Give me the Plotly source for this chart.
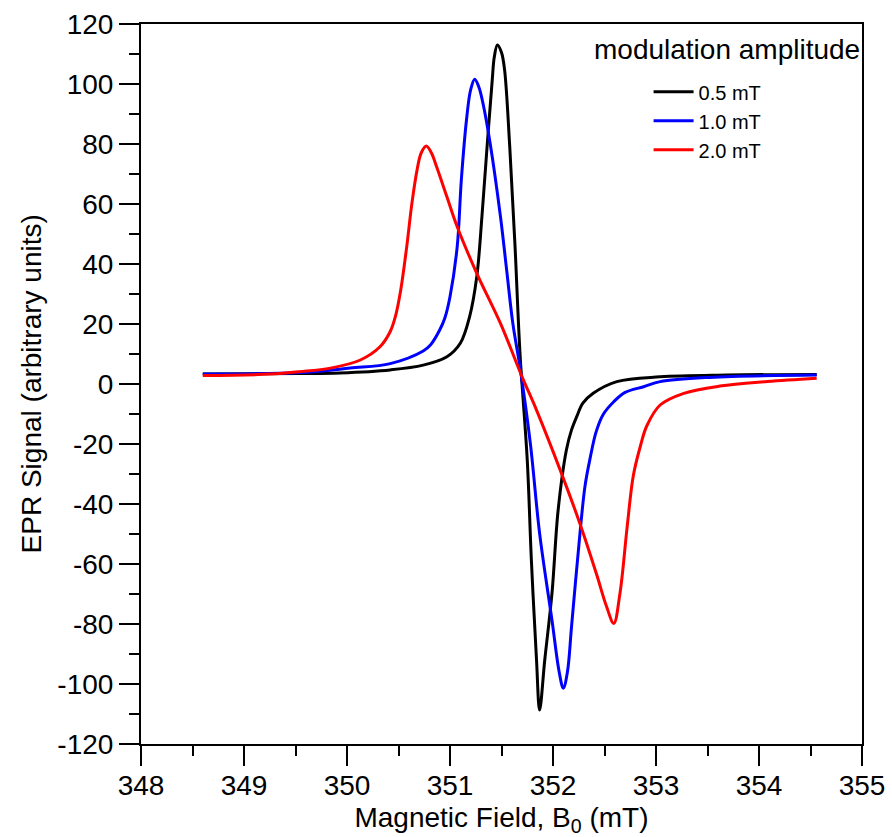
import plotly.graph_objects as go

# ---- data ----
field_black = [348.60, 349.54, 349.93, 350.42, 350.74, 350.97, 351.10, 351.19, 351.26, 351.31,
               351.36, 351.41, 351.43, 351.46, 351.50, 351.53, 351.58, 351.63, 351.68, 351.75,
               351.79, 351.84, 351.87, 351.92, 351.99, 352.05, 352.13, 352.18, 352.23, 352.29,
               352.39, 352.62, 353.04, 353.69, 354.56]
signal_black = [3.3, 3.5, 3.7, 4.7, 6.3, 9.1, 13.6, 22.4, 35.8, 55.8,
                79.1, 101.3, 109.0, 113.0, 110.5, 104.7, 79.1, 46.9, 10.0, -25.3,
                -58.7, -92.0, -108.7, -92.0, -69.8, -42.0, -22.0, -15.3, -10.9, -6.4,
                -3.1, 0.8, 2.4, 3.0, 3.2]

field_blue = [348.60, 349.54, 350.03, 350.42, 350.74, 350.81, 350.90, 350.95, 351.00, 351.07,
              351.11, 351.16, 351.20, 351.24, 351.28, 351.32, 351.39, 351.49, 351.55, 351.61,
              351.68, 351.78, 351.87, 351.99, 352.06, 352.10, 352.14, 352.18, 352.25, 352.31,
              352.36, 352.42, 352.49, 352.59, 352.70, 352.88, 353.04, 353.52, 354.56]
signal_blue = [3.3, 3.8, 5.3, 6.8, 11.0, 13.0, 18.0, 22.0, 29.1, 45.8,
               68.0, 88.0, 98.0, 101.6, 99.0, 93.6, 80.2, 55.8, 38.0, 20.2,
               5.5, -19.8, -49.8, -78.7, -96.0, -101.4, -96.0, -80.9, -54.2, -34.2,
               -24.8, -15.8, -10.0, -5.9, -2.8, -0.9, 0.8, 2.2, 3.0]

field_red = [348.60, 349.25, 349.54, 349.84, 350.13, 350.32, 350.42, 350.47, 350.52, 350.58,
             350.63, 350.68, 350.72, 350.77, 350.82, 350.87, 350.97, 351.07, 351.26, 351.49,
             351.70, 351.84, 352.07, 352.26, 352.42, 352.52, 352.59, 352.65, 352.72, 352.78,
             352.85, 352.91, 353.04, 353.27, 353.62, 354.08, 354.56]
signal_red = [2.8, 3.3, 4.1, 5.3, 8.0, 12.4, 17.5, 22.5, 31.0, 45.8,
              60.2, 71.3, 77.0, 79.3, 77.0, 72.4, 62.4, 52.4, 36.9, 20.2,
              2.4, -8.7, -28.7, -46.4, -63.1, -74.2, -79.8, -69.8, -47.6, -30.5,
              -20.5, -14.0, -7.0, -3.1, -0.7, 0.8, 1.9]

series_names = ["0.5 mT", "1.0 mT", "2.0 mT"]
series_colors = ["#000000", "#0000ff", "#ff0000"]

y_tickvals = [-120, -100, -80, -60, -40, -20, 0, 20, 40, 60, 80, 100, 120]
y_ticktext = ["-120", "-100", "-80", "-60", "-40", "-20", "0", "20", "40", "60", "80", "100", "120"]
x_tickvals = [348, 349, 350, 351, 352, 353, 354, 355]
x_ticktext = ["348", "349", "350", "351", "352", "353", "354", "355"]

FONT = "Liberation Sans, Arial, Helvetica, sans-serif"

fig = go.Figure()
for xs, ys, name, color in zip([field_black, field_blue, field_red],
                               [signal_black, signal_blue, signal_red],
                               series_names, series_colors):
    fig.add_trace(go.Scatter(x=xs, y=ys, mode="lines", name=name,
                             line=dict(color=color, width=3, shape="spline", smoothing=1.0)))

axis_common = dict(showgrid=False, zeroline=False, showline=True, linecolor="black",
                   linewidth=2, mirror=True, ticks="outside", tickwidth=2, tickcolor="black",
                   ticklen=20, automargin=False,
                   tickfont=dict(family=FONT, size=28, color="black"))

fig.update_xaxes(range=[348, 355], tickvals=x_tickvals, ticktext=x_ticktext,
                 ticklabelstandoff=-5,
                 minor=dict(dtick=0.5, ticklen=10, tickwidth=2, tickcolor="black", ticks="outside"),
                 title=dict(text="Magnetic Field, B<sub>0</sub> (mT)",
                            font=dict(family=FONT, size=28, color="black"), standoff=9),
                 **axis_common)
fig.update_yaxes(range=[-120, 120], tickvals=y_tickvals, ticktext=y_ticktext,
                 minor=dict(dtick=10, ticklen=10, tickwidth=2, tickcolor="black", ticks="outside"),
                 **axis_common)

# y-axis title (placed as rotated text to match the reference position)
fig.add_annotation(text="EPR Signal (arbitrary units)", xref="paper", yref="paper",
                   x=-0.152, y=0.5, xanchor="center", yanchor="middle", textangle=-90,
                   showarrow=False, font=dict(family=FONT, size=28, color="black"))

fig.add_annotation(text="modulation amplitude", xref="paper", yref="paper",
                   x=1.0, y=0.965, xanchor="right", yanchor="middle", showarrow=False,
                   font=dict(family=FONT, size=28, color="black"))

fig.update_layout(
    width=892, height=837,
    margin=dict(l=141, r=30, t=24, b=93),
    plot_bgcolor="white", paper_bgcolor="white",
    showlegend=True,
    legend=dict(x=0.704, y=0.933, xanchor="left", yanchor="top", bgcolor="rgba(0,0,0,0)",
                font=dict(family=FONT, size=20, color="black"), tracegroupgap=0,
                itemwidth=40),
)

fig.write_html("out.html")
